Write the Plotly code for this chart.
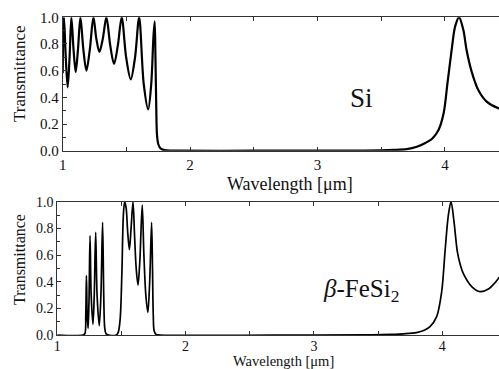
import plotly.graph_objects as go

# ---- data ----
si_wavelength = [1.000, 1.005, 1.010, 1.024, 1.039, 1.054, 1.068, 1.085, 1.102, 1.120, 1.139,
                 1.162, 1.186, 1.213, 1.241, 1.264, 1.288, 1.315, 1.343, 1.373, 1.403, 1.433,
                 1.463, 1.498, 1.534, 1.568, 1.600, 1.636, 1.671, 1.695, 1.712, 1.722, 1.728,
                 1.734, 1.740, 1.750, 1.765, 1.785, 1.820, 1.900, 2.500, 3.000, 3.300, 3.500,
                 3.600, 3.700, 3.780, 3.850, 3.900, 3.950, 3.990, 4.020, 4.053, 4.080, 4.111,
                 4.145, 4.170, 4.210, 4.262, 4.328, 4.420, 4.450]
si_transmittance = [0.58, 0.90, 1.00, 0.70, 0.475, 0.70, 1.00, 0.76, 0.59, 0.76, 1.00,
                    0.76, 0.60, 0.76, 1.00, 0.84, 0.74, 0.84, 1.00, 0.79, 0.65, 0.79,
                    1.00, 0.70, 0.535, 0.70, 1.00, 0.50, 0.31, 0.50, 0.85, 0.97, 0.70,
                    0.35, 0.12, 0.05, 0.02, 0.008, 0.002, 0.0, 0.0, 0.0, 0.001, 0.003,
                    0.006, 0.012, 0.03, 0.06, 0.09, 0.155, 0.28, 0.505, 0.755, 0.93, 1.00,
                    0.905, 0.755, 0.593, 0.455, 0.368, 0.318, 0.31]

fesi_wavelength = [1.000, 1.200, 1.215, 1.222, 1.227, 1.233, 1.240, 1.247, 1.255, 1.264, 1.278,
                   1.288, 1.299, 1.310, 1.327, 1.340, 1.353, 1.362, 1.370, 1.380, 1.400, 1.460,
                   1.475, 1.490, 1.503, 1.515, 1.525, 1.537, 1.548, 1.562, 1.575, 1.590, 1.602,
                   1.615, 1.629, 1.643, 1.662, 1.675, 1.690, 1.706, 1.720, 1.735, 1.742, 1.748,
                   1.755, 1.770, 1.800, 3.000, 3.400, 3.600, 3.700, 3.800, 3.860, 3.905, 3.957,
                   3.996, 4.022, 4.048, 4.069, 4.092, 4.118, 4.140, 4.165, 4.230, 4.295, 4.360,
                   4.410, 4.450]
fesi_transmittance = [0.0, 0.0, 0.01, 0.15, 0.445, 0.15, 0.05, 0.25, 0.745, 0.30, 0.08,
                      0.30, 0.77, 0.30, 0.07, 0.30, 0.845, 0.30, 0.05, 0.01, 0.0, 0.0,
                      0.02, 0.12, 0.45, 0.90, 1.00, 0.95, 0.78, 0.64, 0.80, 1.00, 0.75,
                      0.50, 0.375, 0.55, 0.975, 0.60, 0.30, 0.17, 0.40, 0.845, 0.50, 0.15,
                      0.03, 0.005, 0.0, 0.0, 0.001, 0.005, 0.009, 0.018, 0.035, 0.063, 0.138,
                      0.325, 0.625, 0.90, 1.00, 0.85, 0.625, 0.53, 0.46, 0.363, 0.325, 0.345,
                      0.39, 0.44]

x_tick_values = [1, 2, 3, 4]
x_tick_labels = ["1", "2", "3", "4"]
y_tick_values = [0.0, 0.2, 0.4, 0.6, 0.8, 1.0]
y_tick_labels = ["0.0", "0.2", "0.4", "0.6", "0.8", "1.0"]

FONT = "Liberation Serif, Times New Roman, serif"
INK = "#111111"

fig = go.Figure()
fig.add_trace(go.Scatter(x=si_wavelength, y=si_transmittance, mode="lines",
                         line=dict(color="black", width=2.2, shape="spline", smoothing=0.9),
                         xaxis="x", yaxis="y", showlegend=False))
fig.add_trace(go.Scatter(x=fesi_wavelength, y=fesi_transmittance, mode="lines",
                         line=dict(color="black", width=1.7, shape="spline", smoothing=0.9),
                         xaxis="x2", yaxis="y2", showlegend=False))

def xaxis_style(domain, rng, anchor, size, standoff=0):
    return dict(domain=domain, range=rng, anchor=anchor, automargin=False,
                tickvals=x_tick_values, ticktext=x_tick_labels,
                ticks="inside", ticklen=4, tickwidth=1, tickcolor="#333",
                ticklabelstandoff=standoff,
                minor=dict(dtick=0.5, tick0=1, ticks="inside", ticklen=4, tickwidth=1, tickcolor="#333"),
                showline=True, linecolor="#333", linewidth=1, mirror="allticks",
                showgrid=False, zeroline=False,
                tickfont=dict(family=FONT, size=size, color=INK))

def yaxis_style(domain, anchor, size):
    return dict(domain=domain, range=[0, 1], anchor=anchor, automargin=False,
                tickvals=y_tick_values, ticktext=y_tick_labels,
                ticks="inside", ticklen=4, tickwidth=1, tickcolor="#333",
                minor=dict(dtick=0.1, tick0=0, ticks="inside", ticklen=3, tickwidth=1, tickcolor="#333"),
                showline=True, linecolor="#333", linewidth=1, mirror=False,
                showgrid=False, zeroline=False,
                tickfont=dict(family=FONT, size=size, color=INK))

W, H = 499, 369
fig.update_layout(
    template="none",
    width=W, height=H,
    margin=dict(l=0, r=0, t=0, b=0, pad=0, autoexpand=False),
    paper_bgcolor="white", plot_bgcolor="white",
    hovermode=False,
    xaxis=xaxis_style([62.7 / W, 1], [1, 1 + (W - 62.7) / 127.4], "y", 15),
    yaxis=yaxis_style([1 - 150.7 / H, 1 - 17.3 / H], "x", 15),
    xaxis2=xaxis_style([57.3 / W, 1], [1, 1 + (W - 57.3) / 128.3], "y2", 14, standoff=-2),
    yaxis2=yaxis_style([1 - 335 / H, 1 - 201.7 / H], "x2", 14),
)

annotations = [
    dict(text="Transmittance", x=19 / W, y=1 - 74 / H, textangle=-90, size=17),
    dict(text="Wavelength [μm]", x=290 / W, y=1 - 184 / H, textangle=0, size=18),
    dict(text="Transmittance", x=19 / W, y=1 - 260 / H, textangle=-90, size=16),
    dict(text="Wavelength [μm]", x=283 / W, y=1 - 360.5 / H, textangle=0, size=14.5),
    dict(text="Si", x=361.7 / W, y=1 - 98 / H, textangle=0, size=27),
    dict(text="<i>β</i>-FeSi<sub>2</sub>", x=361 / W, y=1 - 290 / H, textangle=0, size=25),
]
for a in annotations:
    fig.add_annotation(text=a["text"], x=a["x"], y=a["y"], xref="paper", yref="paper",
                       xanchor="center", yanchor="middle", textangle=a["textangle"],
                       showarrow=False, font=dict(family=FONT, size=a["size"], color=INK))

fig.write_html(
    "out.html",
    config={"displayModeBar": False},
    post_script="document.body.style.margin='0';document.body.style.overflow='hidden';",
)
